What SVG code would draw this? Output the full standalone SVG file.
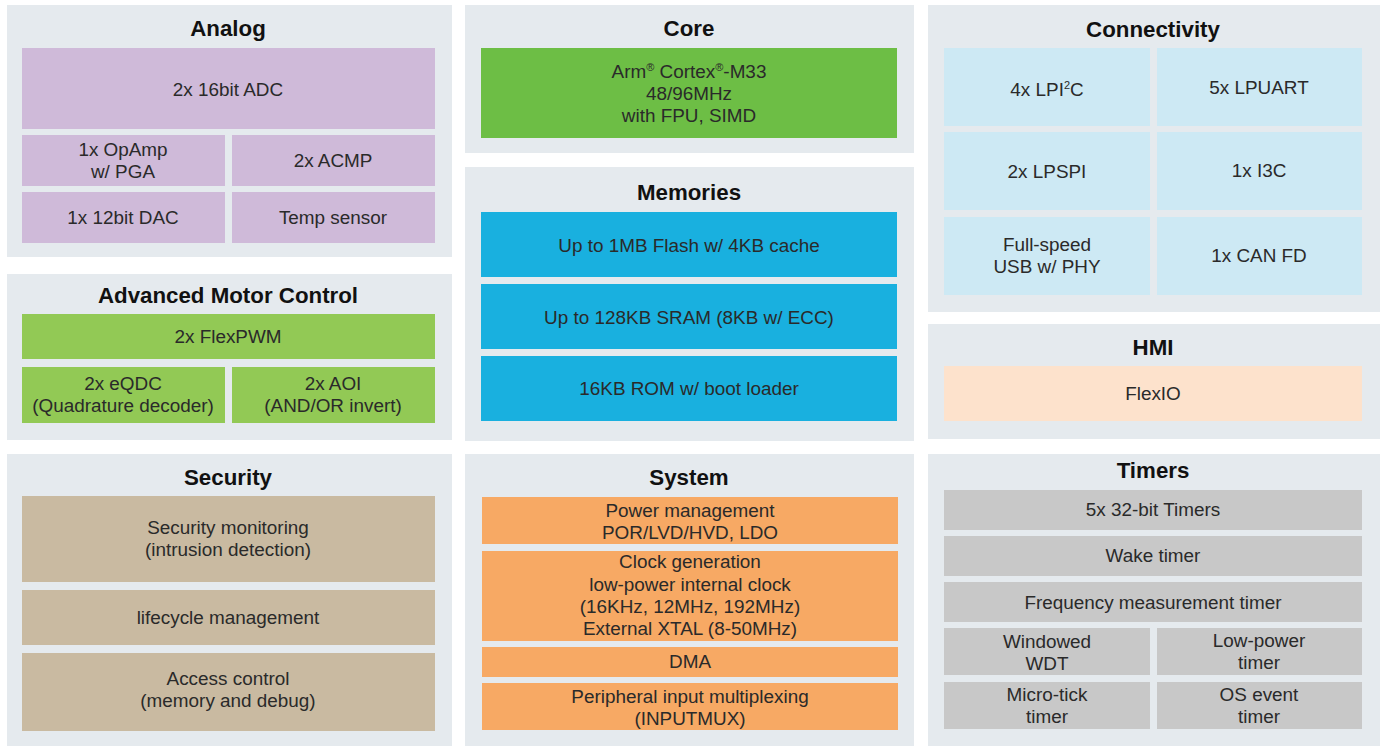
<svg xmlns="http://www.w3.org/2000/svg" width="1382" height="746" viewBox="0 0 1382 746">
<style>
.pn{fill:#e5eaee}
.tt{font-family:"Liberation Sans",Arial,sans-serif;font-weight:bold;font-size:22.3px;fill:#111;text-anchor:middle}
.tx{font-family:"Liberation Sans",Arial,sans-serif;font-size:18.9px;fill:#2a2a2a;text-anchor:middle}
.an{fill:#cfbad9}
.co{fill:#6dbe45}
.mo{fill:#92c955}
.me{fill:#19b0df}
.cn{fill:#cde9f4}
.hm{fill:#fde2cc}
.se{fill:#c9baa1}
.sy{fill:#f7a964}
.ti{fill:#c8c8c8}
.sup{font-size:11px}
</style>
<rect width="1382" height="746" fill="#ffffff"/>
<g id="analog">
<rect class="pn" x="7" y="5" width="445" height="252"/>
<text class="tt" x="228" y="36">Analog</text>
<g id="adc"><rect class="an" x="22" y="48" width="413" height="81"/><text class="tx" x="228" y="96">2x 16bit ADC</text></g>
<g id="opamp"><rect class="an" x="22" y="135" width="203" height="51"/><text class="tx" x="123" y="156">1x OpAmp</text><text class="tx" x="123" y="178">w/ PGA</text></g>
<g id="acmp"><rect class="an" x="232" y="135" width="203" height="51"/><text class="tx" x="333" y="167">2x ACMP</text></g>
<g id="dac"><rect class="an" x="22" y="192" width="203" height="51"/><text class="tx" x="123" y="224">1x 12bit DAC</text></g>
<g id="temp"><rect class="an" x="232" y="192" width="203" height="51"/><text class="tx" x="333" y="224">Temp sensor</text></g>
</g>
<g id="motor">
<rect class="pn" x="7" y="274" width="445" height="166"/>
<text class="tt" x="228" y="303">Advanced Motor Control</text>
<g id="flexpwm"><rect class="mo" x="22" y="314" width="413" height="45"/><text class="tx" x="228" y="343">2x FlexPWM</text></g>
<g id="eqdc"><rect class="mo" x="22" y="367" width="203" height="56"/><text class="tx" x="123" y="390">2x eQDC</text><text class="tx" x="123" y="412">(Quadrature decoder)</text></g>
<g id="aoi"><rect class="mo" x="232" y="367" width="203" height="56"/><text class="tx" x="333" y="390">2x AOI</text><text class="tx" x="333" y="412">(AND/OR invert)</text></g>
</g>
<g id="security">
<rect class="pn" x="7" y="454" width="445" height="292"/>
<text class="tt" x="228" y="485">Security</text>
<g id="secmon"><rect class="se" x="22" y="496" width="413" height="86"/><text class="tx" x="228" y="534">Security monitoring</text><text class="tx" x="228" y="556">(intrusion detection)</text></g>
<g id="lifecycle"><rect class="se" x="22" y="590" width="413" height="55"/><text class="tx" x="228" y="624">lifecycle management</text></g>
<g id="access"><rect class="se" x="22" y="653" width="413" height="78"/><text class="tx" x="228" y="685">Access control</text><text class="tx" x="228" y="707">(memory and debug)</text></g>
</g>
<g id="core">
<rect class="pn" x="465" y="5" width="449" height="148"/>
<text class="tt" x="689" y="36">Core</text>
<g id="cortex"><rect class="co" x="481" y="48" width="416" height="90"/>
<text class="tx" x="689" y="78">Arm<tspan class="sup" dy="-7">®</tspan><tspan dy="7"> Cortex</tspan><tspan class="sup" dy="-7">®</tspan><tspan dy="7">-M33</tspan></text>
<text class="tx" x="689" y="100">48/96MHz</text><text class="tx" x="689" y="122">with FPU, SIMD</text></g>
</g>
<g id="memories">
<rect class="pn" x="465" y="167" width="449" height="274"/>
<text class="tt" x="689" y="200">Memories</text>
<g id="flash"><rect class="me" x="481" y="212" width="416" height="65"/><text class="tx" x="689" y="252">Up to 1MB Flash w/ 4KB cache</text></g>
<g id="sram"><rect class="me" x="481" y="284" width="416" height="65"/><text class="tx" x="689" y="324">Up to 128KB SRAM (8KB w/ ECC)</text></g>
<g id="rom"><rect class="me" x="481" y="356" width="416" height="65"/><text class="tx" x="689" y="395">16KB ROM w/ boot loader</text></g>
</g>
<g id="system">
<rect class="pn" x="465" y="454" width="449" height="292"/>
<text class="tt" x="689" y="485">System</text>
<g id="power"><rect class="sy" x="482" y="497" width="416" height="47"/><text class="tx" x="690" y="517">Power management</text><text class="tx" x="690" y="539">POR/LVD/HVD, LDO</text></g>
<g id="clock"><rect class="sy" x="482" y="551" width="416" height="90"/><text class="tx" x="690" y="568">Clock generation</text><text class="tx" x="690" y="591">low-power internal clock</text><text class="tx" x="690" y="613">(16KHz, 12MHz, 192MHz)</text><text class="tx" x="690" y="635">External XTAL (8-50MHz)</text></g>
<g id="dma"><rect class="sy" x="482" y="647" width="416" height="30"/><text class="tx" x="690" y="668">DMA</text></g>
<g id="inputmux"><rect class="sy" x="482" y="683" width="416" height="47"/><text class="tx" x="690" y="703">Peripheral input multiplexing</text><text class="tx" x="690" y="725">(INPUTMUX)</text></g>
</g>
<g id="connectivity">
<rect class="pn" x="928" y="5" width="452" height="307"/>
<text class="tt" x="1153" y="37">Connectivity</text>
<g id="lpi2c"><rect class="cn" x="944" y="48" width="206" height="78"/><text class="tx" x="1047" y="96">4x LPI<tspan class="sup" dy="-7">2</tspan><tspan dy="7">C</tspan></text></g>
<g id="lpuart"><rect class="cn" x="1157" y="48" width="205" height="78"/><text class="tx" x="1259" y="94">5x LPUART</text></g>
<g id="lpspi"><rect class="cn" x="944" y="132" width="206" height="78"/><text class="tx" x="1047" y="178">2x LPSPI</text></g>
<g id="i3c"><rect class="cn" x="1157" y="132" width="205" height="78"/><text class="tx" x="1259" y="177">1x I3C</text></g>
<g id="usb"><rect class="cn" x="944" y="217" width="206" height="78"/><text class="tx" x="1047" y="251">Full-speed</text><text class="tx" x="1047" y="273">USB w/ PHY</text></g>
<g id="can"><rect class="cn" x="1157" y="217" width="205" height="78"/><text class="tx" x="1259" y="262">1x CAN FD</text></g>
</g>
<g id="hmi">
<rect class="pn" x="928" y="324" width="452" height="115"/>
<text class="tt" x="1153" y="355">HMI</text>
<g id="flexio"><rect class="hm" x="944" y="366" width="418" height="55"/><text class="tx" x="1153" y="400">FlexIO</text></g>
</g>
<g id="timers">
<rect class="pn" x="928" y="454" width="452" height="292"/>
<text class="tt" x="1153" y="478">Timers</text>
<g id="t32"><rect class="ti" x="944" y="490" width="418" height="40"/><text class="tx" x="1153" y="516">5x 32-bit Timers</text></g>
<g id="wake"><rect class="ti" x="944" y="536" width="418" height="40"/><text class="tx" x="1153" y="562">Wake timer</text></g>
<g id="freq"><rect class="ti" x="944" y="582" width="418" height="40"/><text class="tx" x="1153" y="609">Frequency measurement timer</text></g>
<g id="wdt"><rect class="ti" x="944" y="628" width="206" height="47"/><text class="tx" x="1047" y="648">Windowed</text><text class="tx" x="1047" y="670">WDT</text></g>
<g id="lptimer"><rect class="ti" x="1157" y="628" width="205" height="47"/><text class="tx" x="1259" y="647">Low-power</text><text class="tx" x="1259" y="669">timer</text></g>
<g id="microtick"><rect class="ti" x="944" y="682" width="206" height="47"/><text class="tx" x="1047" y="701">Micro-tick</text><text class="tx" x="1047" y="723">timer</text></g>
<g id="osevent"><rect class="ti" x="1157" y="682" width="205" height="47"/><text class="tx" x="1259" y="701">OS event</text><text class="tx" x="1259" y="723">timer</text></g>
</g>
</svg>
